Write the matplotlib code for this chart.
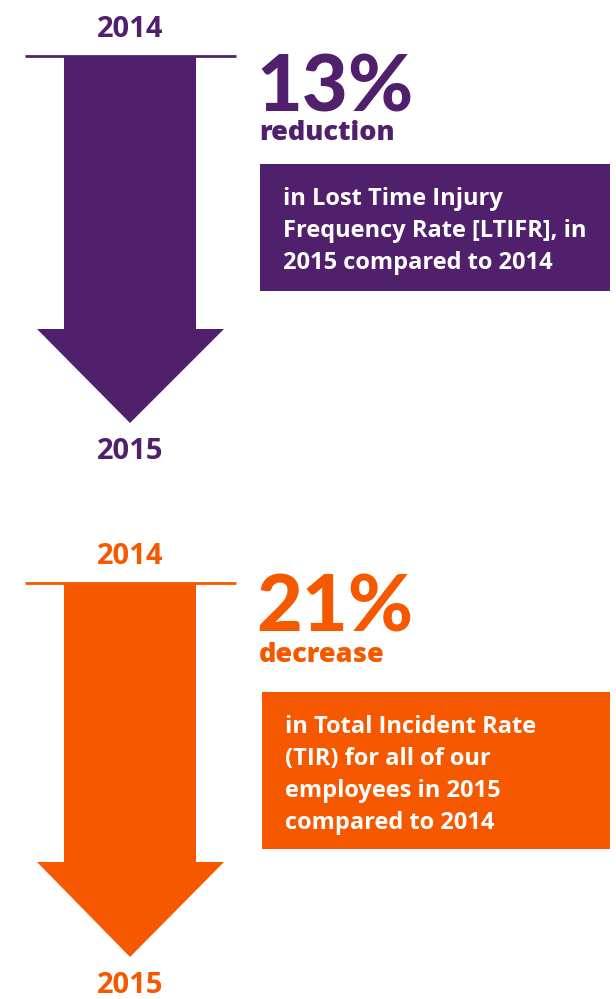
import matplotlib
matplotlib.use("Agg")
import matplotlib.pyplot as plt
import matplotlib.patches as patches

# chart content
years_from = ["2014", "2014"]
years_to = ["2015", "2015"]
percent_change = [13, 21]
change_words = ["reduction", "decrease"]
descriptions = [
    ["in Lost Time Injury", "Frequency Rate [LTIFR], in", "2015 compared to 2014"],
    ["in Total Incident Rate", "(TIR) for all of our", "employees in 2015",
     "compared to 2014"],
]
colors = ["#51206C", "#F65800"]

# layout of each panel (pixel units, y grows downward)
panel_top = [0, 527]
big_base = [111, 105]
word_base = [140, 135]
box_left = [260, 262]
box_top = [164, 165]
box_bottom = [291, 322]

W, H = 616, 999
fig = plt.figure(figsize=(W / 100, H / 100), dpi=100)
ax = fig.add_axes([0, 0, 1, 1])
ax.set_xlim(0, W)
ax.set_ylim(H, 0)
ax.axis("off")

for i in range(2):
    y0 = panel_top[i]
    c = colors[i]
    cx = 130
    # top year
    ax.text(cx, y0 + 37, years_from[i], color=c, fontsize=21, fontweight="bold",
            family="Open Sans", ha="center", va="baseline")
    # rule under the year
    ax.plot([25, 236], [y0 + 55.5, y0 + 55.5], color=c, lw=2, solid_capstyle="butt")
    # the arrow
    shaft_bot = y0 + 329 + i * 6
    tip = y0 + 423 + i * 7
    arrow = [(64, y0 + 57), (196, y0 + 57), (196, shaft_bot), (224, shaft_bot),
             (cx, tip), (37, shaft_bot), (64, shaft_bot)]
    ax.add_patch(patches.Polygon(arrow, closed=True, fc=c, ec="none"))
    # bottom year
    ax.text(cx, tip + 36, years_to[i], color=c, fontsize=21, fontweight="bold",
            family="Open Sans", ha="center", va="baseline")
    # big number
    ax.text(256, y0 + big_base[i], "%d%%" % percent_change[i], color=c,
            fontsize=57, fontweight="black", family="Lato", ha="left",
            va="baseline")
    ax.text(259, y0 + word_base[i], change_words[i], color=c, fontsize=19.5,
            fontweight="heavy", family="Open Sans", ha="left", va="baseline")
    # description box
    bt, bb = y0 + box_top[i], y0 + box_bottom[i]
    bl = box_left[i]
    ax.add_patch(patches.Rectangle((bl, bt), 610 - bl, bb - bt, fc=c, ec="none"))
    for k, line in enumerate(descriptions[i]):
        ax.text(bl + 23, bt + 41 + k * 32, line, color="white", fontsize=17,
                fontweight="bold", family="Open Sans", ha="left", va="baseline")

fig.savefig("out.png", dpi=100)
